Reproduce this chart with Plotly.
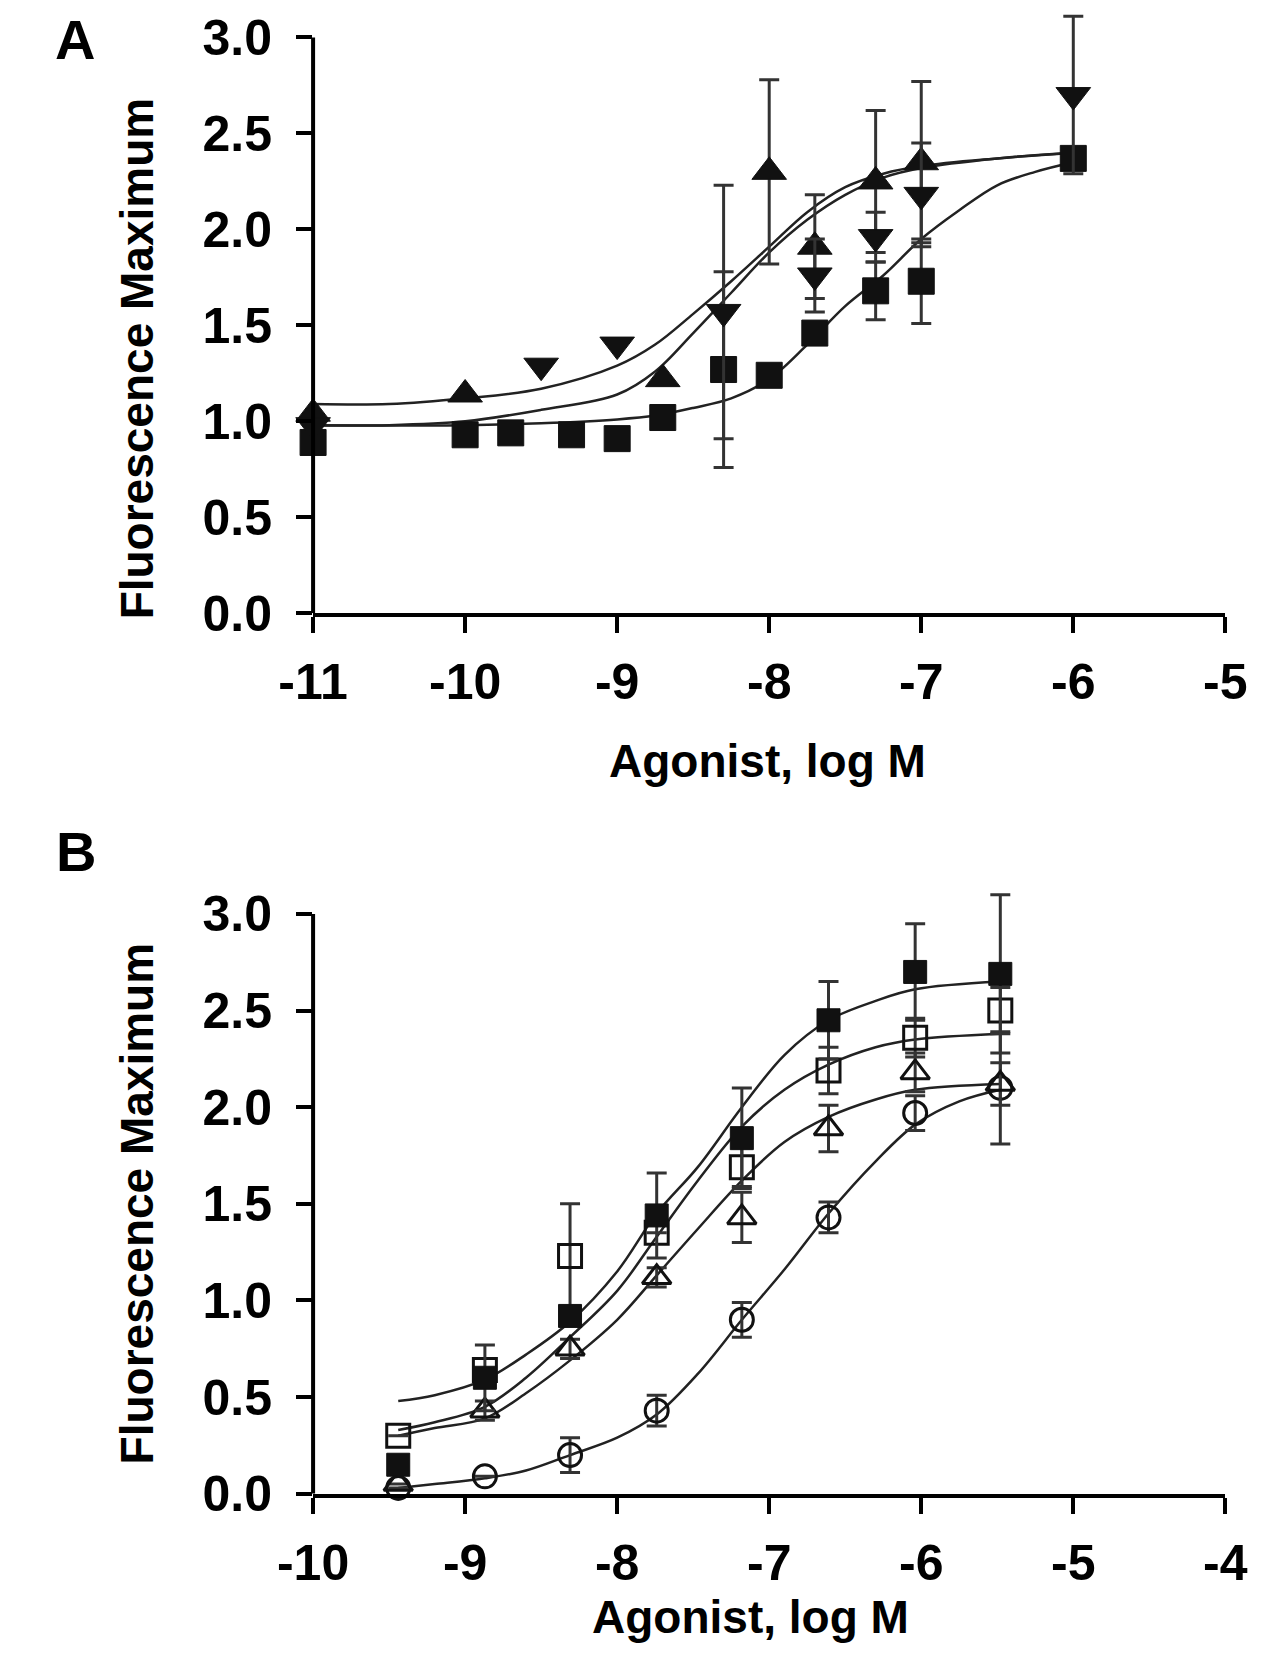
import plotly.graph_objects as go

W, H = 1267, 1669
FONT = "Liberation Sans, Arial, sans-serif"

# ---- panel A: points ----
a_sq_x = [-11, -10, -9.7, -9.3, -9, -8.7, -8.3, -8, -7.7, -7.3, -7, -6]
a_sq_y = [0.89, 0.93, 0.94, 0.93, 0.91, 1.02, 1.27, 1.24, 1.46, 1.68, 1.73, 2.37]
a_sq_err = [0, 0, 0, 0, 0, 0, 0.51, 0, 0.05, 0.15, 0.22, 0]

a_tri_x = [-11, -10, -8.7, -8, -7.7, -7.3, -7]
a_tri_y = [1.04, 1.14, 1.22, 2.30, 1.91, 2.25, 2.35]
a_tri_err = [0, 0, 0, 0.48, 0.27, 0.37, 0.42]

a_inv_x = [-11, -9.5, -9, -8.3, -7.7, -7.3, -7, -6]
a_inv_y = [0.98, 1.29, 1.40, 1.57, 1.76, 1.96, 2.18, 2.70]
a_inv_err = [0, 0, 0, 0.66, 0.19, 0.13, 0.27, 0.41]

# ---- panel A: fitted curves ----
a_fit_x = [-11, -10.5, -10, -9.5, -9, -8.75, -8.5, -8.25, -8, -7.75, -7.5, -7.25, -7, -6.5, -6]
a_fit_inv = [1.09, 1.09, 1.12, 1.17, 1.29, 1.40, 1.56, 1.73, 1.91, 2.09, 2.22, 2.29, 2.33, 2.37, 2.40]
a_fit_tri = [0.98, 0.98, 1.00, 1.06, 1.14, 1.26, 1.46, 1.67, 1.88, 2.05, 2.18, 2.27, 2.32, 2.37, 2.40]
a_fit_sq_x = [-11, -10, -9.5, -9, -8.75, -8.5, -8.25, -8, -7.75, -7.5, -7.25, -7, -6.75, -6.5, -6.25, -6]
a_fit_sq = [0.98, 0.98, 0.99, 1.01, 1.03, 1.07, 1.12, 1.22, 1.40, 1.60, 1.76, 1.95, 2.10, 2.23, 2.30, 2.35]

# ---- panel B: points ----
b_x = [-9.44, -8.87, -8.31, -7.74, -7.18, -6.61, -6.04, -5.48]
b_fsq_y = [0.15, 0.60, 0.92, 1.44, 1.84, 2.45, 2.70, 2.69]
b_fsq_err = [0, 0.17, 0, 0.22, 0.26, 0.20, 0.25, 0.41]
b_osq_y = [0.30, 0.64, 1.23, 1.35, 1.69, 2.19, 2.36, 2.50]
b_osq_err = [0, 0, 0.27, 0, 0.10, 0.12, 0.10, 0.12]
b_tri_y = [0.05, 0.43, 0.75, 1.12, 1.43, 1.89, 2.18, 2.12]
b_tri_err = [0, 0.05, 0.05, 0.05, 0.13, 0.12, 0.10, 0.11]
b_cir_y = [0.03, 0.09, 0.20, 0.43, 0.90, 1.43, 1.97, 2.10]
b_cir_err = [0, 0, 0.09, 0.08, 0.09, 0.08, 0.09, 0.29]

# ---- panel B: fitted curves ----
b_fit_x = [-9.44, -9.2, -8.87, -8.6, -8.31, -8.0, -7.74, -7.47, -7.18, -6.9, -6.61, -6.3, -6.04, -5.48]
b_fit_fsq = [0.48, 0.51, 0.59, 0.72, 0.89, 1.15, 1.45, 1.69, 2.00, 2.27, 2.45, 2.55, 2.61, 2.65]
b_fit_osq = [0.33, 0.37, 0.45, 0.60, 0.81, 1.05, 1.33, 1.62, 1.90, 2.09, 2.22, 2.31, 2.35, 2.38]
b_fit_tri = [0.30, 0.34, 0.39, 0.52, 0.69, 0.90, 1.13, 1.37, 1.62, 1.82, 1.95, 2.04, 2.09, 2.12]
b_fit_cir_x = [-9.44, -9.2, -8.87, -8.6, -8.31, -8.0, -7.74, -7.47, -7.18, -6.9, -6.61, -6.3, -6.04, -5.75, -5.48]
b_fit_cir = [0.03, 0.05, 0.08, 0.12, 0.20, 0.29, 0.41, 0.62, 0.90, 1.16, 1.45, 1.72, 1.91, 2.03, 2.09]

a_ticks = [-11, -10, -9, -8, -7, -6, -5]
a_ticktext = ["-11", "-10", "-9", "-8", "-7", "-6", "-5"]
b_ticks = [-10, -9, -8, -7, -6, -5, -4]
b_ticktext = ["-10", "-9", "-8", "-7", "-6", "-5", "-4"]
y_ticks = [0, 0.5, 1.0, 1.5, 2.0, 2.5, 3.0]
y_ticktext = ["0.0", "0.5", "1.0", "1.5", "2.0", "2.5", "3.0"]
Y_TOP = 3.0      # where the drawn y axis line stops
EXTRA = 0.16     # room above 3.0 for the tallest error bars

LINE = dict(color="#222222", width=2.5)
ERR_COLOR = "#333333"


def curve(x, y, xa, ya):
    return go.Scatter(x=x, y=y, mode="lines", line=dict(shape="spline", **LINE),
                      xaxis=xa, yaxis=ya, hoverinfo="skip", showlegend=False)


def points(x, y, err, symbol, size, xa, ya, filled=True):
    if filled:
        marker = dict(symbol=symbol, size=size, color="#111111",
                      line=dict(color="#111111", width=1))
    else:
        marker = dict(symbol=symbol + "-open", size=size, color="#111111",
                      line=dict(color="#111111", width=3))
    return go.Scatter(
        x=x, y=y, mode="markers", marker=marker,
        error_y=dict(type="data", array=err, visible=True, color=ERR_COLOR,
                     thickness=3, width=10),
        xaxis=xa, yaxis=ya, cliponaxis=False, showlegend=False,
    )


fig = go.Figure()

# panel A
fig.add_trace(curve(a_fit_x, a_fit_inv, "x", "y"))
fig.add_trace(curve(a_fit_x, a_fit_tri, "x", "y"))
fig.add_trace(curve(a_fit_sq_x, a_fit_sq, "x", "y"))
fig.add_trace(points(a_sq_x, a_sq_y, a_sq_err, "square", 26, "x", "y"))
fig.add_trace(points(a_tri_x, a_tri_y, a_tri_err, "triangle-up", 30, "x", "y"))
fig.add_trace(points(a_inv_x, a_inv_y, a_inv_err, "triangle-down", 30, "x", "y"))

# panel B
fig.add_trace(curve(b_fit_x, b_fit_fsq, "x2", "y2"))
fig.add_trace(curve(b_fit_x, b_fit_osq, "x2", "y2"))
fig.add_trace(curve(b_fit_x, b_fit_tri, "x2", "y2"))
fig.add_trace(curve(b_fit_cir_x, b_fit_cir, "x2", "y2"))
fig.add_trace(points(b_x, b_cir_y, b_cir_err, "circle", 23, "x2", "y2", filled=False))
fig.add_trace(points(b_x, b_tri_y, b_tri_err, "triangle-up", 25, "x2", "y2", filled=False))
fig.add_trace(points(b_x, b_osq_y, b_osq_err, "square", 23, "x2", "y2", filled=False))
fig.add_trace(points(b_x, b_fsq_y, b_fsq_err, "square", 23, "x2", "y2"))

tickfont = dict(family=FONT, size=50, color="black", weight="bold")
xdom = [282 / W, 1238 / W]


def xaxis(rng, vals, text, anchor):
    return dict(domain=xdom, range=rng, tickvals=vals, ticktext=text, anchor=anchor,
                showline=True, linecolor="black", linewidth=4, ticks="outside",
                ticklen=16, tickwidth=4, tickcolor="black", tickfont=tickfont,
                showgrid=False, zeroline=False, ticklabelstandoff=6)


def yaxis(bottom_px, top_px, anchor):
    # bottom_px / top_px: pixel rows of 0.0 and 3.0
    ppu = (bottom_px - top_px) / Y_TOP
    room_px = max(0.0, top_px - EXTRA * ppu)
    y_max = Y_TOP + (top_px - room_px) / ppu
    return dict(domain=[1 - bottom_px / H, 1 - room_px / H], range=[0, y_max],
                tickvals=y_ticks, ticktext=y_ticktext, anchor=anchor,
                showline=False, ticks="outside", ticklen=16, tickwidth=4,
                tickcolor="black", tickfont=tickfont, showgrid=False,
                zeroline=False, ticklabelstandoff=14)


fig.update_layout(
    width=W, height=H, autosize=False,
    margin=dict(l=0, r=0, t=0, b=0),
    paper_bgcolor="white", plot_bgcolor="white",
    xaxis=xaxis([-11, -5], a_ticks, a_ticktext, "y"),
    yaxis=yaxis(616, 30, "x"),
    xaxis2=xaxis([-10, -4], b_ticks, b_ticktext, "y2"),
    yaxis2=yaxis(1512, 922, "x2"),
)

# y axis lines that stop at 3.0
for xr, yr in (("x domain", "y"), ("x2 domain", "y2")):
    fig.add_shape(type="line", xref=xr, yref=yr, x0=0, x1=0, y0=0, y1=Y_TOP,
                  line=dict(color="black", width=4), layer="above")

title_font = dict(family=FONT, size=46, color="black", weight="bold")
label_font = dict(family=FONT, size=56, color="black", weight="bold")
annotations = [
    dict(text="A", x=33 / W, y=1 - 32 / H, font=label_font),
    dict(text="B", x=34 / W, y=1 - 858 / H, font=label_font),
    dict(text="Agonist, log M", x=758 / W, y=1 - 766 / H, font=title_font),
    dict(text="Agonist, log M", x=740 / W, y=1 - 1637 / H, font=title_font),
    dict(text="Fluorescence Maximum", x=97 / W, y=1 - 357 / H, font=title_font,
         textangle=-90),
    dict(text="Fluorescence Maximum", x=97 / W, y=1 - 1217 / H, font=title_font,
         textangle=-90),
]
for a in annotations:
    a.update(xref="paper", yref="paper", showarrow=False, xanchor="center",
             yanchor="middle")
fig.update_layout(annotations=annotations)

fig.write_html("out.html")
